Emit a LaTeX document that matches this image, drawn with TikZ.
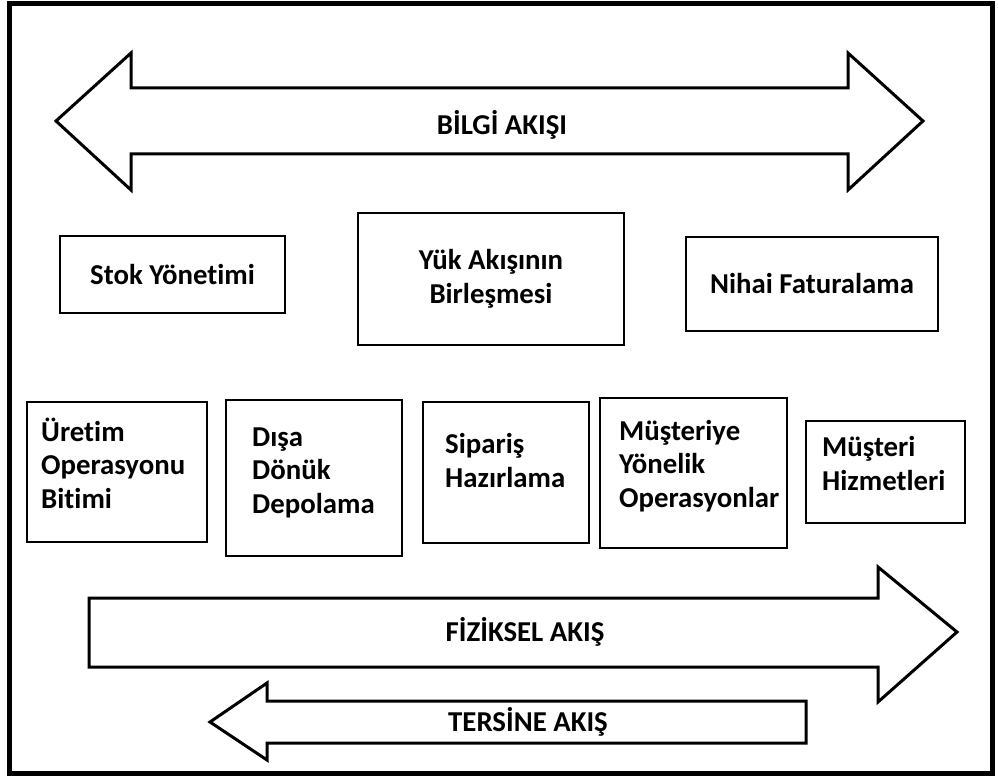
\documentclass[tikz,border=0pt]{standalone}
\usepackage{fontspec}
\setmainfont[Ligatures=NoCommon]{Carlito}
\begin{document}
\begin{tikzpicture}[x=1pt,y=-1pt,
  txt/.style={font=\bfseries\fontsize{28.8}{33.5}\selectfont, inner sep=0pt},
  flowlbl/.style={txt},
  boxtext/.style={txt, align=left, anchor=base west},
  cbox/.style={txt, draw, line width=2pt, align=center},
  sbox/.style={draw, line width=2pt},
  flow/.style={draw, line width=3pt, line join=miter, fill=white}]
\useasboundingbox (0,0) rectangle (998,778);
\fill[white] (0,0) rectangle (998,778);

% outer frame
\draw[line width=5pt] (9.5,4) rectangle (992,773);

% information flow (double arrow)
\draw[flow] (56,121) -- (131,53) -- (131,88) -- (848,88) -- (848,53) -- (923,121)
  -- (848,190) -- (848,154) -- (131,154) -- (131,190) -- cycle;
\node[flowlbl] (bilgi) at (502,125) {BİLGİ AKIŞI};

% upper row of boxes
\node[cbox, minimum width=225pt, minimum height=77pt] (stok) at (172.5,274.5) {Stok Yönetimi};
\node[cbox, minimum width=266pt, minimum height=132pt] (yuk) at (491,279) {Yük Akışının\\Birleşmesi};
\node[cbox, minimum width=252pt, minimum height=94pt] (nihai) at (812,284) {Nihai Faturalama};

% lower row of boxes
\node[sbox, minimum width=180pt, minimum height=140pt] (uretim) at (117,472) {};
\node[sbox, minimum width=176pt, minimum height=156pt] (disa) at (314,478) {};
\node[sbox, minimum width=166pt, minimum height=141pt] (siparis) at (506,472.5) {};
\node[sbox, minimum width=187pt, minimum height=150pt] (musteriye) at (693.5,473) {};
\node[sbox, minimum width=159pt, minimum height=102pt] (hizmet) at (885.5,472) {};

% captions, placed by the baseline of their last line
\node[boxtext] (uretimt) at (41,508) {Üretim\\Operasyonu\\Bitimi};
\node[boxtext] (disat) at (252,513) {Dışa\\Dönük\\Depolama};
\node[boxtext] (sipt) at (445,487) {Sipariş\\Hazırlama};
\node[boxtext] (mustt) at (619,507) {Müşteriye\\Yönelik\\Operasyonlar};
\node[boxtext] (hizt) at (822,490) {Müşteri\\Hizmetleri};

% physical flow (right arrow)
\draw[flow] (89,598) -- (878,598) -- (878,567) -- (957,632) -- (878,702) -- (878,667)
  -- (89,667) -- cycle;
\node[flowlbl] (fiziksel) at (525,632) {FİZİKSEL AKIŞ};

% reverse flow (left arrow)
\draw[flow] (806,701) -- (267,701) -- (267,683) -- (210,722) -- (267,760) -- (267,743)
  -- (806,743) -- cycle;
\node[flowlbl] (tersine) at (528,722) {TERSİNE AKIŞ};
\end{tikzpicture}
\end{document}
